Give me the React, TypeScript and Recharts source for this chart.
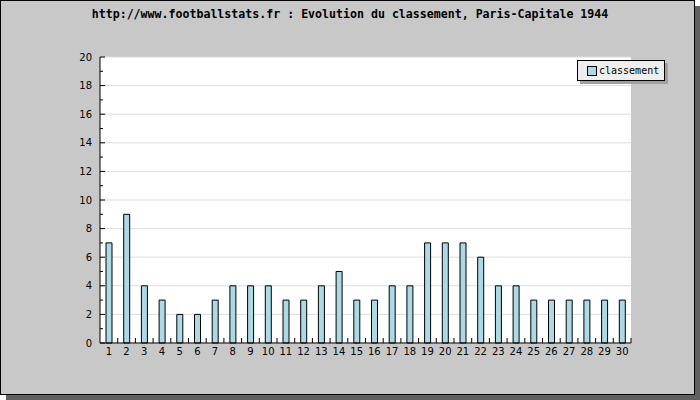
import { BarChart, Bar, XAxis, YAxis, CartesianGrid } from "recharts";

const rounds = [
  "1", "2", "3", "4", "5", "6", "7", "8", "9", "10",
  "11", "12", "13", "14", "15", "16", "17", "18", "19", "20",
  "21", "22", "23", "24", "25", "26", "27", "28", "29", "30",
];
const classement = [7, 9, 4, 3, 2, 2, 3, 4, 4, 4, 3, 3, 4, 5, 3, 3, 4, 4, 7, 7, 7, 6, 4, 4, 3, 3, 3, 3, 3, 3];
const majorTicks = [0, 2, 4, 6, 8, 10, 12, 14, 16, 18, 20];
const allTicks = [0, 1, 2, 3, 4, 5, 6, 7, 8, 9, 10, 11, 12, 13, 14, 15, 16, 17, 18, 19, 20];

const data = rounds.map((r, i) => ({ name: r, classement: classement[i] }));

const font = "DejaVu Sans";

// x label + small inward tick on the right edge of each band
function XTick(props: any) {
  const { x, y, payload } = props;
  const edge = x + (payload.offset || 0);
  const axisY = y - 5;
  return (
    <g>
      <line x1={edge} y1={axisY} x2={edge} y2={axisY - 5} stroke="#000" />
      <text x={x} y={y} dy="0.71em" textAnchor="middle" fontFamily={font} fontSize={10} fill="#000">
        {payload.value}
      </text>
    </g>
  );
}

// labels on even values, long inward tick on even, short on odd
function YTick(props: any) {
  const { x, y, payload } = props;
  const axisX = x + 8;
  const major = payload.value % 2 === 0;
  return (
    <g>
      <line x1={axisX} y1={y} x2={axisX + (major ? 5 : 3)} y2={y} stroke="#000" />
      {major && (
        <text x={x} y={y} dy="0.355em" textAnchor="end" fontFamily={font} fontSize={10} fill="#000">
          {payload.value}
        </text>
      )}
    </g>
  );
}

function LegendBox() {
  return (
    <div
      style={{
        position: "absolute",
        left: 577,
        top: 60,
        background: "#eeeeee",
        border: "1px solid #000",
        boxShadow: "3px 3px 0 #a0a0a0",
        width: 88,
        height: 21,
        display: "flex",
        alignItems: "center",
        boxSizing: "border-box",
        paddingLeft: 9,
      }}
    >
      <span
        style={{
          width: 8,
          height: 8,
          background: "#add8e6",
          border: "1px solid #000",
          display: "inline-block",
        }}
      />
      <span style={{ fontFamily: "DejaVu Sans Mono", fontSize: 10, marginLeft: 2, color: "#000" }}>
        classement
      </span>
    </div>
  );
}

export default function App() {
  return (
    <div style={{ position: "absolute", left: 0, top: 0, width: 700, height: 400 }}>
      <div
        style={{
          position: "absolute",
          left: 0,
          top: 0,
          width: 693,
          height: 393,
          border: "1px solid #000",
          background: "#c8c8c8",
          boxShadow: "6px 6px 0 #606060",
        }}
      />
      <div
        style={{
          position: "absolute",
          left: 0,
          top: 6,
          width: 700,
          textAlign: "center",
          fontFamily: "DejaVu Sans Mono",
          fontWeight: "bold",
          fontSize: 11.6,
          lineHeight: "16px",
          color: "#000",
        }}
      >
        http://www.footballstats.fr : Evolution du classement, Paris-Capitale 1944
      </div>
      <div style={{ position: "absolute", left: 0, top: 0 }}>
        <BarChart
          width={700}
          height={400}
          data={data}
          margin={{ top: 57, right: 69, left: 60, bottom: 37 }}
          barCategoryGap={0}
        >
          <CartesianGrid vertical={false} stroke="#dcdcdc" fill="#fff" horizontalValues={majorTicks} />
          <XAxis
            dataKey="name"
            interval={0}
            axisLine={{ stroke: "#000" }}
            tickLine={false}
            tickSize={0}
            tickMargin={5}
            tick={<XTick />}
            height={20}
          />
          <YAxis
            domain={[0, 20]}
            ticks={allTicks}
            interval={0}
            axisLine={{ stroke: "#000" }}
            tickLine={false}
            tickSize={0}
            tickMargin={8}
            tick={<YTick />}
            width={40}
          />
          <Bar
            dataKey="classement"
            fill="#add8e6"
            stroke="#000"
            strokeWidth={1}
            barSize={6}
            isAnimationActive={false}
          />
        </BarChart>
      </div>
      <LegendBox />
    </div>
  );
}
